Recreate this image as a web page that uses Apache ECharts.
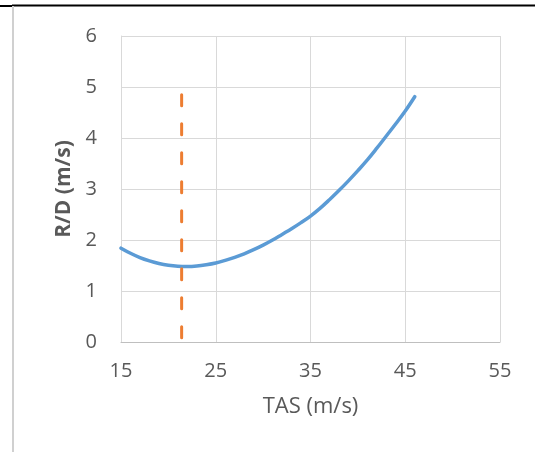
<!DOCTYPE html>
<html>
<head>
<meta charset="utf-8">
<script src="https://cdn.jsdelivr.net/npm/echarts@6/dist/echarts.min.js"></script>
<style>
html,body{margin:0;padding:0;background:#fff;}
#chart{width:535px;height:452px;}
</style>
</head>
<body>
<div id="chart"></div>
<script>
// TAS (m/s) values and rate of descent R/D (m/s)
const tas = [15,16,17,18,19,20,21,22,23,24,25,26,27,28,29,30,31,32,33,34,35,36,37,38,39,40,41,42,43,44,45,46];
const rd  = [1.84,1.74,1.655,1.59,1.54,1.505,1.485,1.48,1.49,1.515,1.55,1.60,1.66,1.73,1.81,1.90,2.00,2.11,2.22,2.34,2.47,2.62,2.79,2.97,3.16,3.36,3.57,3.80,4.04,4.28,4.53,4.81];
// vertical marker at minimum-sink speed
const markerX = [21.4, 21.4];
const markerY = [4.85, 0];
const xTicks = [15, 25, 35, 45, 55];
const yTicks = [0, 1, 2, 3, 4, 5, 6];

const curve = tas.map((v, i) => [v, rd[i]]);
const marker = markerX.map((v, i) => [v, markerY[i]]);

const chart = echarts.init(document.getElementById('chart'), null, {renderer: 'canvas'});
const FONT = '"Open Sans", "Liberation Sans", sans-serif';
chart.setOption({
  animation: false,
  backgroundColor: '#ffffff',
  grid: {left: 121, right: 35, top: 36, bottom: 110, containLabel: false},
  xAxis: {
    type: 'value',
    min: xTicks[0], max: xTicks[xTicks.length - 1], interval: xTicks[1] - xTicks[0],
    name: 'TAS (m/s)', nameLocation: 'middle', nameGap: 54,
    nameTextStyle: {color: '#595959', fontSize: 22, fontFamily: FONT},
    axisLine: {show: true, lineStyle: {color: '#bfbfbf', width: 1}},
    axisTick: {show: false},
    axisLabel: {color: '#595959', fontSize: 20, fontFamily: FONT, margin: 19},
    splitLine: {show: true, lineStyle: {color: '#d9d9d9', width: 1}}
  },
  yAxis: {
    type: 'value',
    min: yTicks[0], max: yTicks[yTicks.length - 1], interval: yTicks[1] - yTicks[0],
    name: 'R/D (m/s)', nameLocation: 'middle', nameGap: 42,
    nameTextStyle: {color: '#595959', fontSize: 21, fontWeight: 'bold', fontFamily: FONT},
    axisLine: {show: true, lineStyle: {color: '#d9d9d9', width: 1}},
    axisTick: {show: false},
    axisLabel: {color: '#595959', fontSize: 20, fontFamily: FONT, margin: 24},
    splitLine: {show: true, lineStyle: {color: '#d9d9d9', width: 1}}
  },
  graphic: [
    {type: 'rect', shape: {x: 12, y: 4.5, width: 523, height: 2}, style: {fill: '#000000'}, silent: true},
    {type: 'rect', shape: {x: 0, y: 5, width: 12, height: 2}, style: {fill: '#000000'}, silent: true},
    {type: 'rect', shape: {x: 12, y: 6, width: 2, height: 446}, style: {fill: '#d0d0d0'}, silent: true}
  ],
  series: [
    {
      type: 'line', data: curve, smooth: 0.4, showSymbol: false,
      lineStyle: {color: '#5b9bd5', width: 3.5, cap: 'round'}, z: 3
    },
    {
      type: 'line', data: marker, showSymbol: false,
      lineStyle: {color: '#ed7d31', width: 3, type: [11, 18], cap: 'round'}, z: 4
    }
  ]
});
</script>
</body>
</html>
